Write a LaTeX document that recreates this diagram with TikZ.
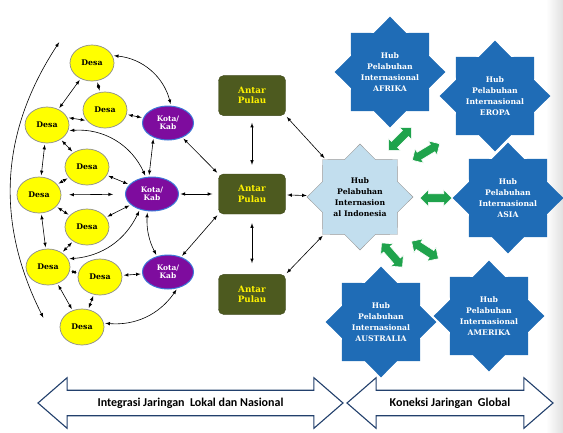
\documentclass[tikz,border=0pt]{standalone}
\usepackage{fontspec}
\setmainfont{DejaVu Serif}[BoldFont={DejaVu Serif Bold}]
\newfontfamily\barfont{Carlito}
\usetikzlibrary{arrows,positioning,shapes,shapes.arrows}
\definecolor{desayellow}{HTML}{FFFF00}
\definecolor{kotapurple}{HTML}{7E0C9E}
\definecolor{kotaline}{HTML}{3C78D8}
\definecolor{pulaugreen}{HTML}{4D5A1F}
\definecolor{hubblue}{HTML}{1F6CB6}
\definecolor{indoblue}{HTML}{C2DEEE}
\definecolor{linkgreen}{HTML}{1FA34C}
\definecolor{barnavy}{HTML}{22406C}
\tikzstyle{desa}=[ellipse,draw=black!45,fill=desayellow,line width=0.7pt,
minimum width=44pt,minimum height=36pt,inner sep=0pt,font=\bfseries\fontsize{7.8}{9}\selectfont]
\tikzstyle{kota}=[ellipse,draw=kotaline,fill=kotapurple,line width=1pt,minimum width=51pt,
minimum height=34pt,inner sep=0pt,text=white,align=center,font=\bfseries\fontsize{7.5}{7.5}\selectfont]
\tikzstyle{pulau}=[rectangle,rounded corners=5pt,draw=pulaugreen!80!black,fill=pulaugreen,
minimum width=67pt,minimum height=40pt,text=yellow,align=center,font=\bfseries\fontsize{8.8}{10.5}\selectfont]
\tikzstyle{hub}=[star,star points=8,star point ratio=1.31,fill=hubblue,draw=hubblue,minimum size=110pt,
inner sep=0pt,text=white,align=center,font=\bfseries\fontsize{7.7}{10.8}\selectfont]
\tikzstyle{indohub}=[hub,fill=indoblue,draw=black!40,text=black,minimum size=106pt]
\tikzstyle{glink}=[double arrow,fill=linkgreen,draw=white,line width=0.6pt,minimum height=32pt,
inner sep=4pt,double arrow head extend=4pt]
\tikzstyle{bar}=[double arrow,fill=white,draw=barnavy,line width=1.1pt,double arrow head extend=12.5pt,
double arrow tip angle=82,inner xsep=4pt,inner ysep=7pt,font=\barfont\bfseries\fontsize{12}{14}\selectfont]
\tikzstyle{link}=[latex-latex,line width=0.6pt,shorten <=1.5pt,shorten >=1.5pt]

\begin{document}
\begin{tikzpicture}[x=1pt,y=-1pt,node distance=58pt]
            \useasboundingbox (0,0) rectangle (563,432);
            \shade[left color=white,right color=black!12] (546,0) rectangle (563,432);

            % DESA PART

            \node[desa] (d1) at (92,63) {Desa};
            \node[desa] (d2) at (105,110) {Desa};
            \node[desa] (d3) at (47,125) {Desa};
            \node[desa] (d4) at (87,167) {Desa};
            \node[desa] (d5) at (39,195) {Desa};
            \node[desa] (d6) at (87,227) {Desa};
            \node[desa] (d7) at (48,267) {Desa};
            \node[desa] (d8) at (100,277) {Desa};
            \node[desa] (d9) at (82,327) {Desa};

            \coordinate (top) at (60,41);
            \coordinate (bot) at (44,319);
            \path[link] (bot) edge[bend left=30] (top);

            % KOTA PART

            \node[kota] (k1) at (168,123) {Kota/\\Kab};
            \node[kota,minimum width=53pt] (k2) at (152,194) {Kota/\\Kab};
            \node[kota] (k3) at (168,272) {Kota/\\Kab};

            \path[link] (d1.20) edge[bend left=35] (k1.80);
            \path[link] (d1) edge (d3);
            \path[link] (d1) edge (d2);
            \path[link] (d2.210) edge (d3.20);
            \path[link] (d2) edge (k1);
            \path[link] (d3.-15) edge[bend left=35] (k2.110);
            \path[link] (k1.225) edge (k2.100);
            \path[link] (d3) edge (d4);
            \path[link] (d3) edge (d5);
            \path[link] (d4) edge (d5);
            \path[link] (d4) edge (k2);
            \path[link,shorten <=8pt,shorten >=12pt] (d5) edge (k2);
            \path[link] (d5) edge (d6);
            \path[link] (d6) edge (k2);
            \path[link] (d5) edge (d7);
            \path[link] (d6) edge (d7);
            \path[link] (k2.232) edge[bend left=30] (d7.22);
            \path[link] (k2.255) edge[bend right=15] (k3.125);
            \path[link] (d7) edge (d8);
            \path[link] (d8) edge (k3);
            \path[link] (d7) edge (d9);
            \path[link] (d8) edge (d9);
            \path[link] (k3.-60) edge[bend left=30] (d9.10);

            % ANTAR PULAU PART

            \node[pulau] (a2) at (252,194) {Antar\\Pulau};
            \node[pulau,above=58pt of a2] (a1) {Antar\\Pulau};
            \node[pulau,below=60pt of a2] (a3) {Antar\\Pulau};

            % HUB PART

            \node[indohub] (indo) at (360,197) {Hub\\Pelabuhan\\Internasion\\al Indonesia};
            \node[hub] (hafr) at (390,72) {Hub\\Pelabuhan\\Internasional\\AFRIKA};
            \node[hub] (heur) at (495,96) {Hub\\Pelabuhan\\Internasional\\EROPA};
            \node[hub] (hasi) at (508,198) {Hub\\Pelabuhan\\Internasional\\ASIA};
            \node[hub] (hame) at (489,316) {Hub\\Pelabuhan\\Internasional\\AMERIKA};
            \node[hub] (haus) at (381,322) {Hub\\Pelabuhan\\Internasional\\AUSTRALIA};

            \path[link] (k1) edge (a2.north west);
            \path[link,shorten >=6pt] (k2) edge (a2);
            \path[link] (k3) edge (a2.south west);
            \path[link,shorten <=7pt,shorten >=9pt] (a1) edge (a2);
            \path[link,shorten <=9pt,shorten >=11pt] (a2) edge (a3);
            \path[link] (a2) edge (indo);
            \path[link] (a1.south east) edge (indo);
            \path[link] (a3.north east) edge (indo);

            % Global links

            \node[glink,rotate=45] (g1) at (400,139) {};
            \node[glink,rotate=31] (g2) at (426,152) {};
            \node[glink] (g3) at (436,198) {};
            \node[glink,rotate=-33] (g4) at (425,250) {};
            \node[glink,rotate=-49] (g5) at (392,255) {};

            % Bottom bars

            \node[bar,minimum height=305pt] (b1) at (190.5,403) {Integrasi Jaringan~~Lokal dan Nasional};
            \node[bar,minimum height=206pt] (b2) at (450,403) {Koneksi Jaringan~~Global};

        \end{tikzpicture}
\end{document}
